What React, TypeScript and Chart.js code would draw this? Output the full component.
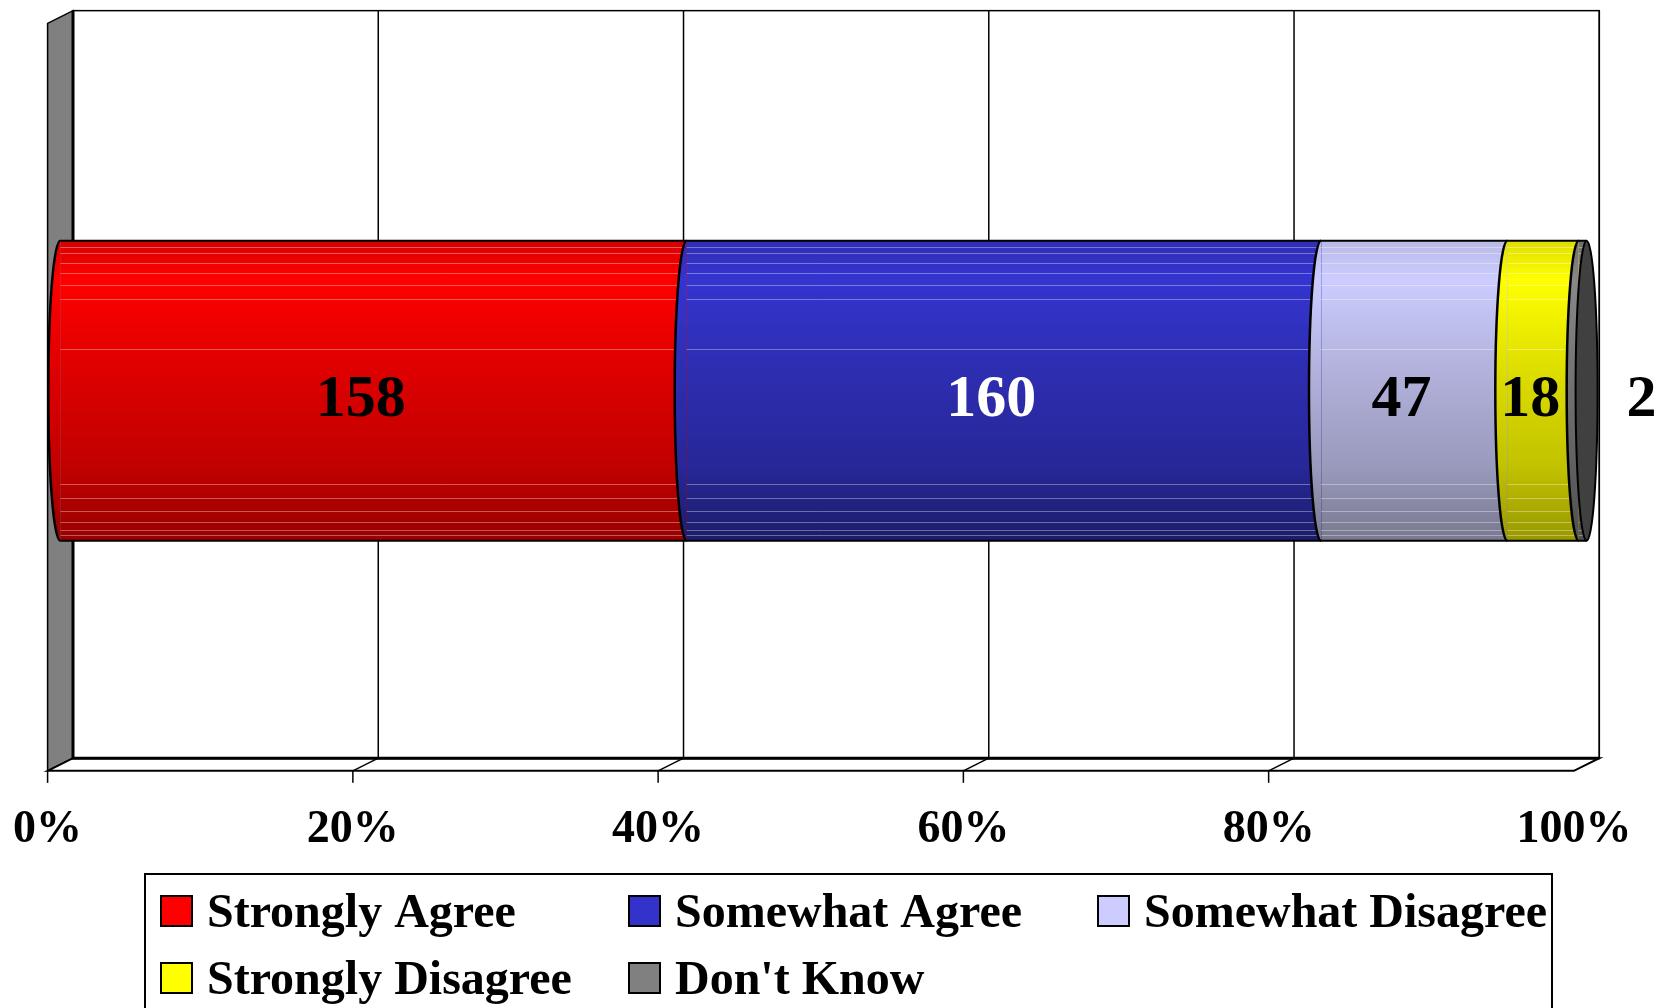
import React, { useEffect, useRef } from "react";
import { Chart, registerables } from "chart.js";

Chart.register(...registerables);

// ---- data ----
const categories = ["Responses"];
const seriesLabels = [
  "Strongly Agree",
  "Somewhat Agree",
  "Somewhat Disagree",
  "Strongly Disagree",
  "Don't Know",
];
const seriesCounts = [158, 160, 47, 18, 2];
const tickValues = [0, 20, 40, 60, 80, 100];
const seriesColors = ["#ff0000", "#3333cc", "#ccccff", "#ffff00", "#808080"];
const valueLabelColors = ["#000000", "#ffffff", "#000000", "#000000", "#000000"];

// ---- styling ----
const FONT = "'Liberation Serif', 'Times New Roman', serif";
const HX = 12.7; // half depth offset (x)
const HY = 6.35; // half depth offset (y)
const BAR_H = 300;
const SEAM_RX = 12;
const CAP_RX = 11;

const gradientStops: [number, string][][] = [
  [[0, "#d60000"], [0.13, "#ff0000"], [0.45, "#dc0000"], [0.75, "#c20000"], [1, "#980000"]],
  [[0, "#2e2eb4"], [0.13, "#3434d0"], [0.45, "#2d2db0"], [0.75, "#272798"], [1, "#1c1c6a"]],
  [[0, "#babae8"], [0.13, "#ccccff"], [0.45, "#b0b0da"], [0.75, "#9a9abd"], [1, "#78788f"]],
  [[0, "#dede00"], [0.13, "#ffff00"], [0.45, "#dcdc00"], [0.75, "#c2c200"], [1, "#989800"]],
  [[0, "#6e6e6e"], [0.13, "#888888"], [0.5, "#707070"], [1, "#505050"]],
];
const stripeFractions = [0.02, 0.04, 0.073, 0.107, 0.147, 0.193, 0.36, 0.81, 0.857, 0.9, 0.937, 0.963, 0.98];

const total = seriesCounts.reduce((a, b) => a + b, 0);
const seriesPercents = seriesCounts.map((c) => (c / total) * 100);

function makeGradient(ctx: CanvasRenderingContext2D, i: number, top: number, bottom: number) {
  const g = ctx.createLinearGradient(0, top, 0, bottom);
  for (const [o, c] of gradientStops[i]) g.addColorStop(o, c);
  return g;
}

const frame3d = {
  id: "frame3d",
  beforeDraw(chart: any) {
    const { ctx, chartArea: ca, scales } = chart;
    const xs = scales.x;
    const L = ca.left, R = ca.right, T = ca.top, B = ca.bottom;
    ctx.save();
    ctx.lineJoin = "miter";
    // back wall
    ctx.fillStyle = "#ffffff";
    ctx.fillRect(L + HX, T - HY, R - L, B - T);
    ctx.strokeStyle = "#000";
    ctx.lineWidth = 1.5;
    ctx.strokeRect(L + HX, T - HY, R - L, B - T);
    // gridlines on back wall
    ctx.lineWidth = 1.5;
    for (const v of tickValues) {
      if (v === 0) continue;
      const px = xs.getPixelForValue(v) + HX;
      ctx.beginPath();
      ctx.moveTo(px, T - HY);
      ctx.lineTo(px, B - HY);
      ctx.stroke();
    }
    // left wall
    ctx.beginPath();
    ctx.moveTo(L - HX, T + HY);
    ctx.lineTo(L + HX, T - HY);
    ctx.lineTo(L + HX, B - HY);
    ctx.lineTo(L - HX, B + HY);
    ctx.closePath();
    ctx.fillStyle = "#808080";
    ctx.fill();
    ctx.lineWidth = 1.5;
    ctx.stroke();
    // floor
    ctx.beginPath();
    ctx.moveTo(L - HX, B + HY);
    ctx.lineTo(L + HX, B - HY);
    ctx.lineTo(R + HX, B - HY);
    ctx.lineTo(R - HX, B + HY);
    ctx.closePath();
    ctx.fillStyle = "#ffffff";
    ctx.fill();
    ctx.lineWidth = 2;
    ctx.stroke();
    // thick inner edges
    ctx.lineWidth = 3;
    ctx.beginPath();
    ctx.moveTo(L + HX, T - HY);
    ctx.lineTo(L + HX, B - HY);
    ctx.lineTo(R + HX, B - HY);
    ctx.stroke();
    // floor diagonals + tick marks
    ctx.lineWidth = 1.5;
    for (const v of tickValues) {
      const px = xs.getPixelForValue(v);
      if (v !== 0 && v !== 100) {
        ctx.beginPath();
        ctx.moveTo(px - HX, B + HY);
        ctx.lineTo(px + HX, B - HY);
        ctx.stroke();
      }
      if (v !== 100) {
        ctx.beginPath();
        ctx.moveTo(px - HX, B + HY);
        ctx.lineTo(px - HX, B + HY + 12);
        ctx.stroke();
      }
    }
    ctx.restore();
  },
  afterDatasetsDraw(chart: any) {
    const { ctx } = chart;
    const metas = chart.data.datasets.map((_: any, i: number) => chart.getDatasetMeta(i));
    const els = metas.map((m: any) => m.data[0]);
    const yc = els[0].y;
    const top = yc - BAR_H / 2;
    const bottom = yc + BAR_H / 2;
    const x0 = els[0].base;
    const xEnd = els[els.length - 1].x;
    ctx.save();
    // stripes
    ctx.lineWidth = 1;
    ctx.strokeStyle = "rgba(255,255,255,0.35)";
    for (const f of stripeFractions) {
      const y = Math.round(top + f * BAR_H) + 0.5;
      ctx.beginPath();
      ctx.moveTo(x0, y);
      ctx.lineTo(xEnd, y);
      ctx.stroke();
    }
    const bulge = (xb: number, i: number) => {
      ctx.beginPath();
      ctx.ellipse(xb, yc, SEAM_RX, BAR_H / 2, 0, Math.PI / 2, Math.PI * 1.5);
      ctx.closePath();
      ctx.fillStyle = makeGradient(ctx, i, top, bottom);
      ctx.fill();
      ctx.beginPath();
      ctx.ellipse(xb, yc, SEAM_RX, BAR_H / 2, 0, Math.PI / 2, Math.PI * 1.5);
      ctx.strokeStyle = "#000";
      ctx.lineWidth = 2.5;
      ctx.stroke();
    };
    bulge(x0, 0);
    for (let i = 1; i < els.length; i++) bulge(els[i].base, i);
    // outline top/bottom
    ctx.strokeStyle = "#000";
    ctx.lineWidth = 2;
    ctx.beginPath();
    ctx.moveTo(x0, top);
    ctx.lineTo(xEnd, top);
    ctx.moveTo(x0, bottom);
    ctx.lineTo(xEnd, bottom);
    ctx.stroke();
    // end cap
    ctx.beginPath();
    ctx.ellipse(xEnd, yc, CAP_RX, BAR_H / 2, 0, 0, Math.PI * 2);
    ctx.fillStyle = "#404040";
    ctx.fill();
    ctx.lineWidth = 2;
    ctx.stroke();
    // value labels
    ctx.font = `bold 60px ${FONT}`;
    ctx.textBaseline = "alphabetic";
    const baseY = yc + HY + 18.5;
    els.forEach((el: any, i: number) => {
      ctx.fillStyle = valueLabelColors[i];
      if (i === els.length - 1) {
        ctx.textAlign = "left";
        ctx.fillText(String(seriesCounts[i]), xEnd + 40, baseY);
      } else {
        ctx.textAlign = "center";
        ctx.fillText(String(seriesCounts[i]), (el.base + el.x) / 2 - HX, baseY);
      }
    });
    ctx.restore();
  },
  afterDraw(chart: any) {
    const { ctx } = chart;
    ctx.save();
    ctx.strokeStyle = "#000";
    ctx.lineWidth = 2;
    ctx.strokeRect(145, 874, 1407, 200);
    const cols = [161, 629, 1098];
    const rows = [896, 963];
    ctx.font = `bold 48px ${FONT}`;
    ctx.textAlign = "left";
    ctx.textBaseline = "alphabetic";
    seriesLabels.forEach((lab, i) => {
      const cx = cols[i % 3];
      const ry = rows[Math.floor(i / 3)];
      ctx.fillStyle = seriesColors[i];
      ctx.fillRect(cx, ry, 31, 30);
      ctx.lineWidth = 2;
      ctx.strokeStyle = "#000";
      ctx.strokeRect(cx, ry, 31, 30);
      ctx.fillStyle = "#000";
      ctx.fillText(lab, cx + 46, ry + 31);
    });
    ctx.restore();
  },
};

export default function App() {
  const ref = useRef<HTMLCanvasElement>(null);
  useEffect(() => {
    const chart = new Chart(ref.current!, {
      type: "bar",
      data: {
        labels: categories,
        datasets: seriesLabels.map((lab, i) => ({
          label: lab,
          data: [seriesPercents[i]],
          backgroundColor: (c: any) => {
            const ca = c.chart.chartArea;
            if (!ca) return seriesColors[i];
            const yc = (ca.top + ca.bottom) / 2;
            return makeGradient(c.chart.ctx, i, yc - BAR_H / 2, yc + BAR_H / 2);
          },
          borderWidth: 0,
          barThickness: BAR_H,
        })),
      },
      options: {
        indexAxis: "y",
        responsive: false,
        animation: false,
        events: [],
        layout: { padding: { left: 60.3, right: 71.4, top: 17, bottom: 143.5 } },
        plugins: { legend: { display: false }, tooltip: { enabled: false } },
        scales: {
          x: {
            stacked: true,
            min: 0,
            max: 100,
            grid: { display: false, drawTicks: false },
            border: { display: false },
            afterFit: (s: any) => {
              s.height = 100;
              s.paddingLeft = 0;
              s.paddingRight = 0;
            },
            ticks: {
              stepSize: 20,
              padding: 38,
              labelOffset: -HX,
              color: "#000",
              font: { family: FONT, size: 46, weight: "bold" },
              callback: (v: any) => v + "%",
            },
          },
          y: { stacked: true, display: false },
        },
      },
      plugins: [frame3d],
    } as any);
    return () => chart.destroy();
  }, []);
  return (
    <div style={{ position: "fixed", left: 0, top: 0, width: 1658, height: 1008, background: "#fff" }}>
      <canvas ref={ref} width={1658} height={1008} style={{ display: "block", width: 1658, height: 1008 }} />
    </div>
  );
}
